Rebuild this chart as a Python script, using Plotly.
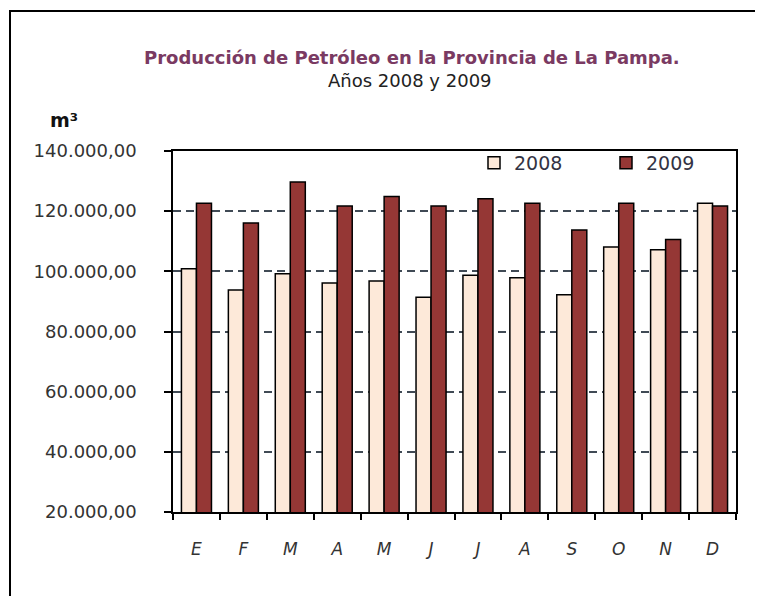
import plotly.graph_objects as go

meses = ["E", "F", "M", "A", "M", "J", "J", "A", "S", "O", "N", "D"]
# unique category keys (month initials repeat)
cat_keys = ["Ene", "Feb", "Mar", "Abr", "May", "Jun", "Jul", "Ago", "Sep", "Oct", "Nov", "Dic"]
prod_2008 = [100900, 93800, 99200, 96100, 96800, 91400, 98700, 97900, 92200, 108100, 107200, 122600]
prod_2009 = [122600, 116100, 129700, 121700, 124900, 121700, 124100, 122600, 113700, 122600, 110600, 121700]
y_ticks = [20000, 40000, 60000, 80000, 100000, 120000, 140000]

W, H = 763, 596
OFF = 8                      # default body margin of the html page
PL, PT, PW, PH = 173, 151, 563, 361   # plot area in page pixels
L = PL - OFF
T = PT - OFF
R = W - L - PW
B = H - T - PH

def px(x):
    return (x - PL) / PW

def py(y):
    return (PT + PH - y) / PH

FONT = "DejaVu Sans"

fig = go.Figure()
fig.add_trace(go.Bar(
    x=cat_keys, y=prod_2008, name="2008",
    marker=dict(color="#FDE9D9", line=dict(color="black", width=1.5)),
))
fig.add_trace(go.Bar(
    x=cat_keys, y=prod_2009, name="2009",
    marker=dict(color="#953735", line=dict(color="black", width=1.5)),
))

fig.update_layout(
    width=W, height=H,
    margin=dict(l=L, r=R, t=T, b=B, autoexpand=False),
    paper_bgcolor="white", plot_bgcolor="white",
    separators=",.",
    barmode="group", bargap=0.36, bargroupgap=0,
    font=dict(family=FONT, color="#333333", size=16),
    showlegend=True,
    legend=dict(
        orientation="h", x=px(474), y=py(163), xanchor="left", yanchor="middle",
        bgcolor="rgba(0,0,0,0)", font=dict(family=FONT, size=19, color="#333344"),
        entrywidth=87, entrywidthmode="pixels", tracegroupgap=0,
    ),
)

fig.update_xaxes(
    type="category",
    tickmode="array", tickvals=cat_keys, ticktext=meses,
    showline=True, linecolor="black", linewidth=1.5, mirror=True,
    ticks="outside", tickson="boundaries", ticklen=6, tickcolor="black", tickwidth=1.5,
    tickfont=dict(family=FONT, size=17, color="#333333", style="italic"),
    ticklabelstandoff=21,
    showgrid=False,
)
fig.update_yaxes(
    range=[20000, 140000],
    tickmode="array", tickvals=y_ticks, tickformat=",.2f",
    showline=True, linecolor="black", linewidth=1.5, mirror=True,
    ticks="outside", ticklen=7, tickcolor="black", tickwidth=1.5,
    tickfont=dict(family=FONT, size=18, color="#333333"),
    ticklabelstandoff=24,
    showgrid=True, gridcolor="#404a55", gridwidth=1.5, griddash="8px,5px",
    zeroline=False,
)

# outer chart border (left edge kept inside the drawable page area)
fig.add_shape(type="rect", xref="paper", yref="paper",
              x0=px(10), x1=px(785), y0=py(620), y1=py(11),
              line=dict(color="black", width=2), layer="below")

# titles
fig.add_annotation(xref="paper", yref="paper", x=px(412), y=py(57),
                   text="<b>Producción de Petróleo en la Provincia de La Pampa.</b>",
                   showarrow=False, xanchor="center", yanchor="middle",
                   font=dict(family=FONT, size=18, color="#7a3a62"))
fig.add_annotation(xref="paper", yref="paper", x=px(410), y=py(80),
                   text="Años 2008 y 2009",
                   showarrow=False, xanchor="center", yanchor="middle",
                   font=dict(family=FONT, size=18, color="#222222"))
fig.add_annotation(xref="paper", yref="paper", x=px(64), y=py(120),
                   text="<b>m³</b>",
                   showarrow=False, xanchor="center", yanchor="middle",
                   font=dict(family=FONT, size=19, color="#111111"))

fig.write_html("out.html")
